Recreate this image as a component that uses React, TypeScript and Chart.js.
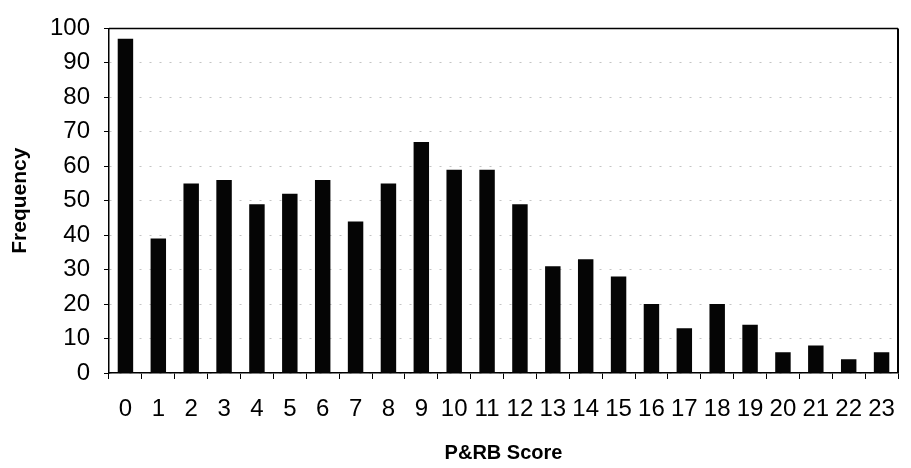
import React, { useEffect, useRef } from 'react';
import { Chart, registerables } from 'chart.js';

Chart.register(...registerables);

const categories = ['0', '1', '2', '3', '4', '5', '6', '7', '8', '9', '10', '11', '12', '13', '14', '15', '16', '17', '18', '19', '20', '21', '22', '23'];
const frequency = [97, 39, 55, 56, 49, 52, 56, 44, 55, 67, 59, 59, 49, 31, 33, 28, 20, 13, 20, 14, 6, 8, 4, 6];
const yMin = 0;
const yMax = 100;
const yStep = 10;
const xTitle = 'P&RB Score';
const yTitle = 'Frequency';

const FONT = '"Liberation Sans", Arial, sans-serif';

const framePlugin = {
  id: 'frame',
  afterDraw(chart: any) {
    const { ctx, chartArea } = chart;
    ctx.save();
    ctx.strokeStyle = '#000';
    ctx.lineWidth = 1.5;
    ctx.beginPath();
    ctx.moveTo(chartArea.left, chartArea.top);
    ctx.lineTo(chartArea.right, chartArea.top);
    ctx.stroke();
    ctx.lineWidth = 2;
    ctx.beginPath();
    ctx.moveTo(chartArea.right, chartArea.top);
    ctx.lineTo(chartArea.right, chartArea.bottom);
    ctx.stroke();
    ctx.restore();
  },
};

export default function App() {
  const ref = useRef<HTMLCanvasElement | null>(null);

  useEffect(() => {
    document.body.style.margin = '0';
    const canvas = ref.current;
    if (!canvas) return;
    const chart = new Chart(canvas, {
      type: 'bar',
      data: {
        labels: categories,
        datasets: [
          {
            label: yTitle,
            data: frequency,
            backgroundColor: '#050505',
            borderWidth: 0,
            barPercentage: 0.47,
            categoryPercentage: 1,
          },
        ],
      },
      options: {
        responsive: false,
        animation: false,
        devicePixelRatio: 1,
        layout: { padding: { top: 20, right: 4, left: 0, bottom: 0 } },
        plugins: {
          legend: { display: false },
          tooltip: { enabled: false },
        },
        scales: {
          x: {
            type: 'category',
            offset: true,
            grid: {
              offset: true,
              drawOnChartArea: false,
              drawTicks: true,
              tickLength: 6,
              color: '#000',
              tickColor: '#000',
            },
            border: { display: true, color: '#000', width: 1.5 },
            ticks: {
              font: { family: FONT, size: 24 },
              color: '#000',
              padding: 16,
              maxRotation: 0,
              minRotation: 0,
              autoSkip: false,
            },
            title: {
              display: true,
              text: xTitle,
              font: { family: FONT, size: 20, weight: 'bold' },
              color: '#000',
              padding: { top: 0, bottom: 3 },
            },
            afterFit(scale: any) {
              scale.height = 95;
            },
          },
          y: {
            min: yMin,
            max: yMax,
            ticks: {
              stepSize: yStep,
              font: { family: FONT, size: 24 },
              color: '#000',
              padding: 14,
            },
            grid: {
              color: '#c4c4c4',
              tickColor: '#000',
              tickLength: 5,
              tickBorderDash: [],
              lineWidth: 1,
            },
            border: { display: true, color: '#000', width: 1.5, dash: [2, 8] },
            title: {
              display: true,
              text: yTitle,
              font: { family: FONT, size: 21, weight: 'bold' },
              color: '#000',
              padding: { top: 8, bottom: 0 },
            },
            afterFit(scale: any) {
              scale.width = 109;
            },
          },
        },
      },
      plugins: [framePlugin],
    } as any);
    return () => chart.destroy();
  }, []);

  return (
    <div style={{ width: 911, height: 468, background: '#fff' }}>
      <canvas ref={ref} width={911} height={468} style={{ display: 'block', width: 911, height: 468 }} />
    </div>
  );
}
